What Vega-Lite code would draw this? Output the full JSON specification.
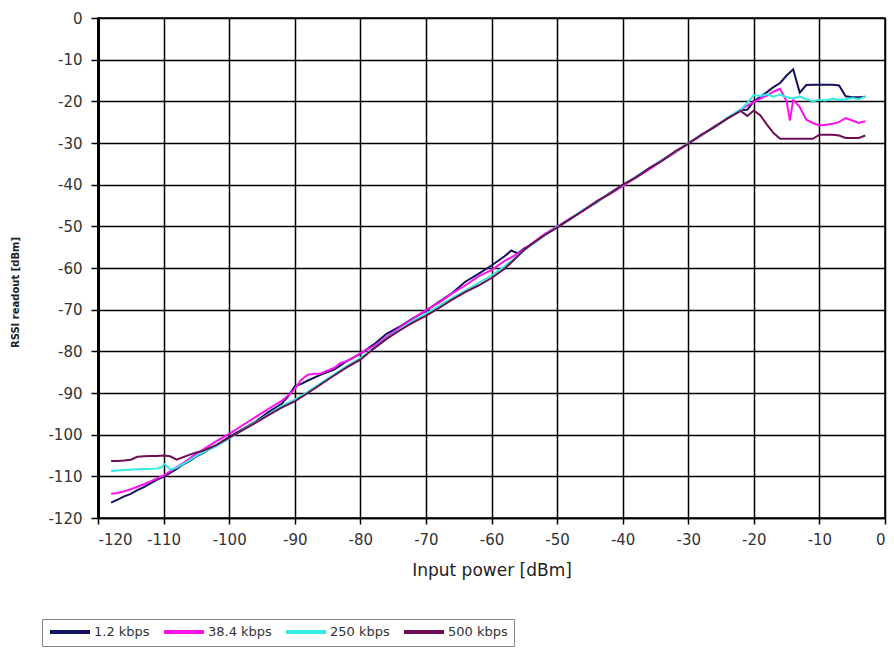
{
  "$schema": "https://vega.github.io/schema/vega-lite/v6.json",
  "width": 787,
  "height": 500,
  "autosize": {"type": "none"},
  "padding": {"left": 98, "top": 18, "right": 9, "bottom": 132},
  "background": "white",
  "config": {
    "font": "DejaVu Sans",
    "view": {"stroke": "black", "strokeWidth": 1.5}
  },
  "datasets": {
    "d": [
      {"series":"1.2 kbps","power":-118,"rssi":-116.3},{"series":"1.2 kbps","power":-117,"rssi":-115.6},{"series":"1.2 kbps","power":-116,"rssi":-114.8},{"series":"1.2 kbps","power":-115,"rssi":-114.2},{"series":"1.2 kbps","power":-114,"rssi":-113.3},{"series":"1.2 kbps","power":-113,"rssi":-112.6},{"series":"1.2 kbps","power":-112,"rssi":-111.7},{"series":"1.2 kbps","power":-111,"rssi":-110.8},{"series":"1.2 kbps","power":-110,"rssi":-110.1},{"series":"1.2 kbps","power":-109,"rssi":-109.2},{"series":"1.2 kbps","power":-108,"rssi":-108.2},{"series":"1.2 kbps","power":-107,"rssi":-107.1},{"series":"1.2 kbps","power":-106,"rssi":-106.3},{"series":"1.2 kbps","power":-105,"rssi":-105.2},{"series":"1.2 kbps","power":-104,"rssi":-104.4},{"series":"1.2 kbps","power":-102,"rssi":-102.6},{"series":"1.2 kbps","power":-100,"rssi":-100.5},{"series":"1.2 kbps","power":-98,"rssi":-98.7},{"series":"1.2 kbps","power":-96,"rssi":-96.9},{"series":"1.2 kbps","power":-94,"rssi":-94.6},{"series":"1.2 kbps","power":-92,"rssi":-92.6},{"series":"1.2 kbps","power":-91,"rssi":-90.8},{"series":"1.2 kbps","power":-90,"rssi":-88.4},{"series":"1.2 kbps","power":-89,"rssi":-87.8},{"series":"1.2 kbps","power":-88,"rssi":-87.0},{"series":"1.2 kbps","power":-86,"rssi":-85.6},{"series":"1.2 kbps","power":-84,"rssi":-84.4},{"series":"1.2 kbps","power":-82,"rssi":-82.3},{"series":"1.2 kbps","power":-80,"rssi":-80.6},{"series":"1.2 kbps","power":-78,"rssi":-78.4},{"series":"1.2 kbps","power":-76,"rssi":-75.8},{"series":"1.2 kbps","power":-74,"rssi":-74.1},{"series":"1.2 kbps","power":-72,"rssi":-72.1},{"series":"1.2 kbps","power":-70,"rssi":-70.3},{"series":"1.2 kbps","power":-68,"rssi":-68.1},{"series":"1.2 kbps","power":-66,"rssi":-66.0},{"series":"1.2 kbps","power":-64,"rssi":-63.3},{"series":"1.2 kbps","power":-62,"rssi":-61.4},{"series":"1.2 kbps","power":-60,"rssi":-59.4},{"series":"1.2 kbps","power":-58,"rssi":-57.2},{"series":"1.2 kbps","power":-57,"rssi":-55.8},{"series":"1.2 kbps","power":-56,"rssi":-56.5},{"series":"1.2 kbps","power":-55,"rssi":-55.3},{"series":"1.2 kbps","power":-54,"rssi":-54.5},{"series":"1.2 kbps","power":-52,"rssi":-52.1},{"series":"1.2 kbps","power":-50,"rssi":-50.2},{"series":"1.2 kbps","power":-48,"rssi":-48.3},{"series":"1.2 kbps","power":-46,"rssi":-46.1},{"series":"1.2 kbps","power":-44,"rssi":-44.3},{"series":"1.2 kbps","power":-42,"rssi":-42.0},{"series":"1.2 kbps","power":-40,"rssi":-40.2},{"series":"1.2 kbps","power":-38,"rssi":-38.1},{"series":"1.2 kbps","power":-36,"rssi":-36.2},{"series":"1.2 kbps","power":-34,"rssi":-34.1},{"series":"1.2 kbps","power":-32,"rssi":-32.2},{"series":"1.2 kbps","power":-30,"rssi":-30.0},{"series":"1.2 kbps","power":-28,"rssi":-28.2},{"series":"1.2 kbps","power":-26,"rssi":-26.0},{"series":"1.2 kbps","power":-24,"rssi":-24.1},{"series":"1.2 kbps","power":-22,"rssi":-22.1},{"series":"1.2 kbps","power":-21,"rssi":-22.0},{"series":"1.2 kbps","power":-20,"rssi":-20.0},{"series":"1.2 kbps","power":-19,"rssi":-18.9},{"series":"1.2 kbps","power":-18,"rssi":-17.8},{"series":"1.2 kbps","power":-17,"rssi":-16.6},{"series":"1.2 kbps","power":-16,"rssi":-15.6},{"series":"1.2 kbps","power":-15,"rssi":-13.8},{"series":"1.2 kbps","power":-14,"rssi":-12.3},{"series":"1.2 kbps","power":-13,"rssi":-17.9},{"series":"1.2 kbps","power":-12,"rssi":-16.1},{"series":"1.2 kbps","power":-11,"rssi":-16.0},{"series":"1.2 kbps","power":-10,"rssi":-16.0},{"series":"1.2 kbps","power":-9,"rssi":-16.0},{"series":"1.2 kbps","power":-8,"rssi":-16.0},{"series":"1.2 kbps","power":-7,"rssi":-16.2},{"series":"1.2 kbps","power":-6,"rssi":-18.8},{"series":"1.2 kbps","power":-5,"rssi":-19.0},{"series":"1.2 kbps","power":-4,"rssi":-19.0},{"series":"1.2 kbps","power":-3,"rssi":-18.9},

      {"series":"38.4 kbps","power":-118,"rssi":-114.2},{"series":"38.4 kbps","power":-117,"rssi":-114.0},{"series":"38.4 kbps","power":-116,"rssi":-113.6},{"series":"38.4 kbps","power":-115,"rssi":-113.1},{"series":"38.4 kbps","power":-114,"rssi":-112.5},{"series":"38.4 kbps","power":-113,"rssi":-111.9},{"series":"38.4 kbps","power":-112,"rssi":-111.2},{"series":"38.4 kbps","power":-111,"rssi":-110.5},{"series":"38.4 kbps","power":-110,"rssi":-109.8},{"series":"38.4 kbps","power":-109,"rssi":-108.8},{"series":"38.4 kbps","power":-108,"rssi":-107.8},{"series":"38.4 kbps","power":-107,"rssi":-106.8},{"series":"38.4 kbps","power":-106,"rssi":-105.7},{"series":"38.4 kbps","power":-105,"rssi":-104.6},{"series":"38.4 kbps","power":-104,"rssi":-103.6},{"series":"38.4 kbps","power":-102,"rssi":-101.6},{"series":"38.4 kbps","power":-100,"rssi":-99.8},{"series":"38.4 kbps","power":-98,"rssi":-97.8},{"series":"38.4 kbps","power":-96,"rssi":-95.8},{"series":"38.4 kbps","power":-94,"rssi":-93.8},{"series":"38.4 kbps","power":-92,"rssi":-91.9},{"series":"38.4 kbps","power":-91,"rssi":-90.6},{"series":"38.4 kbps","power":-90,"rssi":-89.0},{"series":"38.4 kbps","power":-89,"rssi":-86.8},{"series":"38.4 kbps","power":-88,"rssi":-85.6},{"series":"38.4 kbps","power":-87,"rssi":-85.4},{"series":"38.4 kbps","power":-86,"rssi":-85.3},{"series":"38.4 kbps","power":-85,"rssi":-84.6},{"series":"38.4 kbps","power":-84,"rssi":-84.0},{"series":"38.4 kbps","power":-83,"rssi":-82.8},{"series":"38.4 kbps","power":-82,"rssi":-82.3},{"series":"38.4 kbps","power":-81,"rssi":-81.5},{"series":"38.4 kbps","power":-80,"rssi":-80.4},{"series":"38.4 kbps","power":-79,"rssi":-79.6},{"series":"38.4 kbps","power":-78,"rssi":-78.8},{"series":"38.4 kbps","power":-76,"rssi":-76.6},{"series":"38.4 kbps","power":-74,"rssi":-74.3},{"series":"38.4 kbps","power":-72,"rssi":-72.2},{"series":"38.4 kbps","power":-70,"rssi":-70.1},{"series":"38.4 kbps","power":-68,"rssi":-68.3},{"series":"38.4 kbps","power":-66,"rssi":-66.1},{"series":"38.4 kbps","power":-64,"rssi":-64.2},{"series":"38.4 kbps","power":-62,"rssi":-62.0},{"series":"38.4 kbps","power":-60,"rssi":-60.5},{"series":"38.4 kbps","power":-58,"rssi":-58.3},{"series":"38.4 kbps","power":-56,"rssi":-56.6},{"series":"38.4 kbps","power":-54,"rssi":-54.3},{"series":"38.4 kbps","power":-52,"rssi":-52.0},{"series":"38.4 kbps","power":-50,"rssi":-50.0},{"series":"38.4 kbps","power":-48,"rssi":-48.1},{"series":"38.4 kbps","power":-46,"rssi":-46.3},{"series":"38.4 kbps","power":-44,"rssi":-44.1},{"series":"38.4 kbps","power":-42,"rssi":-42.3},{"series":"38.4 kbps","power":-40,"rssi":-40.4},{"series":"38.4 kbps","power":-38,"rssi":-38.3},{"series":"38.4 kbps","power":-36,"rssi":-36.4},{"series":"38.4 kbps","power":-34,"rssi":-34.2},{"series":"38.4 kbps","power":-32,"rssi":-32.3},{"series":"38.4 kbps","power":-30,"rssi":-30.1},{"series":"38.4 kbps","power":-28,"rssi":-28.2},{"series":"38.4 kbps","power":-26,"rssi":-26.1},{"series":"38.4 kbps","power":-24,"rssi":-24.0},{"series":"38.4 kbps","power":-22,"rssi":-22.0},{"series":"38.4 kbps","power":-21,"rssi":-21.0},{"series":"38.4 kbps","power":-20,"rssi":-20.2},{"series":"38.4 kbps","power":-19,"rssi":-19.3},{"series":"38.4 kbps","power":-18,"rssi":-18.6},{"series":"38.4 kbps","power":-17,"rssi":-17.7},{"series":"38.4 kbps","power":-16,"rssi":-17.0},{"series":"38.4 kbps","power":-15,"rssi":-20.0},{"series":"38.4 kbps","power":-14.5,"rssi":-24.6},{"series":"38.4 kbps","power":-14,"rssi":-19.6},{"series":"38.4 kbps","power":-13,"rssi":-21.4},{"series":"38.4 kbps","power":-12,"rssi":-24.4},{"series":"38.4 kbps","power":-11,"rssi":-25.2},{"series":"38.4 kbps","power":-10,"rssi":-25.8},{"series":"38.4 kbps","power":-9,"rssi":-25.6},{"series":"38.4 kbps","power":-8,"rssi":-25.4},{"series":"38.4 kbps","power":-7,"rssi":-25.0},{"series":"38.4 kbps","power":-6,"rssi":-24.0},{"series":"38.4 kbps","power":-5,"rssi":-24.6},{"series":"38.4 kbps","power":-4,"rssi":-25.2},{"series":"38.4 kbps","power":-3,"rssi":-24.8},

      {"series":"250 kbps","power":-118,"rssi":-108.7},{"series":"250 kbps","power":-116,"rssi":-108.5},{"series":"250 kbps","power":-114,"rssi":-108.3},{"series":"250 kbps","power":-112,"rssi":-108.2},{"series":"250 kbps","power":-111,"rssi":-108.1},{"series":"250 kbps","power":-110.4,"rssi":-107.9},{"series":"250 kbps","power":-109.8,"rssi":-107.0},{"series":"250 kbps","power":-109,"rssi":-108.4},{"series":"250 kbps","power":-108,"rssi":-107.9},{"series":"250 kbps","power":-107,"rssi":-107.0},{"series":"250 kbps","power":-106,"rssi":-106.1},{"series":"250 kbps","power":-105,"rssi":-105.1},{"series":"250 kbps","power":-104,"rssi":-104.3},{"series":"250 kbps","power":-102,"rssi":-102.8},{"series":"250 kbps","power":-100,"rssi":-100.9},{"series":"250 kbps","power":-98,"rssi":-98.9},{"series":"250 kbps","power":-96,"rssi":-97.1},{"series":"250 kbps","power":-94,"rssi":-95.1},{"series":"250 kbps","power":-92,"rssi":-93.1},{"series":"250 kbps","power":-90,"rssi":-91.6},{"series":"250 kbps","power":-88,"rssi":-89.7},{"series":"250 kbps","power":-86,"rssi":-87.6},{"series":"250 kbps","power":-84,"rssi":-85.5},{"series":"250 kbps","power":-82,"rssi":-83.5},{"series":"250 kbps","power":-80,"rssi":-81.6},{"series":"250 kbps","power":-78,"rssi":-79.3},{"series":"250 kbps","power":-76,"rssi":-76.9},{"series":"250 kbps","power":-74,"rssi":-74.8},{"series":"250 kbps","power":-72,"rssi":-72.7},{"series":"250 kbps","power":-70,"rssi":-71.0},{"series":"250 kbps","power":-68,"rssi":-69.1},{"series":"250 kbps","power":-66,"rssi":-67.2},{"series":"250 kbps","power":-64,"rssi":-65.4},{"series":"250 kbps","power":-62,"rssi":-63.6},{"series":"250 kbps","power":-60,"rssi":-61.8},{"series":"250 kbps","power":-58,"rssi":-59.6},{"series":"250 kbps","power":-56,"rssi":-57.0},{"series":"250 kbps","power":-54,"rssi":-54.6},{"series":"250 kbps","power":-52,"rssi":-52.3},{"series":"250 kbps","power":-50,"rssi":-50.1},{"series":"250 kbps","power":-48,"rssi":-48.2},{"series":"250 kbps","power":-46,"rssi":-46.0},{"series":"250 kbps","power":-44,"rssi":-44.2},{"series":"250 kbps","power":-42,"rssi":-42.1},{"series":"250 kbps","power":-40,"rssi":-40.1},{"series":"250 kbps","power":-38,"rssi":-38.2},{"series":"250 kbps","power":-36,"rssi":-36.0},{"series":"250 kbps","power":-34,"rssi":-34.1},{"series":"250 kbps","power":-32,"rssi":-32.2},{"series":"250 kbps","power":-30,"rssi":-30.0},{"series":"250 kbps","power":-28,"rssi":-28.1},{"series":"250 kbps","power":-26,"rssi":-26.2},{"series":"250 kbps","power":-24,"rssi":-23.9},{"series":"250 kbps","power":-22,"rssi":-22.0},{"series":"250 kbps","power":-21,"rssi":-20.4},{"series":"250 kbps","power":-20,"rssi":-18.5},{"series":"250 kbps","power":-19,"rssi":-18.7},{"series":"250 kbps","power":-18,"rssi":-18.3},{"series":"250 kbps","power":-17,"rssi":-18.9},{"series":"250 kbps","power":-16,"rssi":-18.4},{"series":"250 kbps","power":-15,"rssi":-19.0},{"series":"250 kbps","power":-14,"rssi":-19.3},{"series":"250 kbps","power":-13,"rssi":-18.8},{"series":"250 kbps","power":-12,"rssi":-19.5},{"series":"250 kbps","power":-11,"rssi":-20.0},{"series":"250 kbps","power":-10,"rssi":-19.6},{"series":"250 kbps","power":-9,"rssi":-19.8},{"series":"250 kbps","power":-8,"rssi":-19.3},{"series":"250 kbps","power":-7,"rssi":-19.7},{"series":"250 kbps","power":-6,"rssi":-19.5},{"series":"250 kbps","power":-5,"rssi":-19.2},{"series":"250 kbps","power":-4,"rssi":-19.5},{"series":"250 kbps","power":-3,"rssi":-18.8},

      {"series":"500 kbps","power":-118,"rssi":-106.3},{"series":"500 kbps","power":-117,"rssi":-106.3},{"series":"500 kbps","power":-116,"rssi":-106.2},{"series":"500 kbps","power":-115,"rssi":-106.0},{"series":"500 kbps","power":-114,"rssi":-105.3},{"series":"500 kbps","power":-113,"rssi":-105.2},{"series":"500 kbps","power":-112,"rssi":-105.1},{"series":"500 kbps","power":-111,"rssi":-105.1},{"series":"500 kbps","power":-110,"rssi":-105.0},{"series":"500 kbps","power":-109,"rssi":-105.2},{"series":"500 kbps","power":-108,"rssi":-106.0},{"series":"500 kbps","power":-107,"rssi":-105.4},{"series":"500 kbps","power":-106,"rssi":-104.8},{"series":"500 kbps","power":-105,"rssi":-104.3},{"series":"500 kbps","power":-104,"rssi":-103.9},{"series":"500 kbps","power":-103,"rssi":-103.2},{"series":"500 kbps","power":-102,"rssi":-102.5},{"series":"500 kbps","power":-100,"rssi":-100.7},{"series":"500 kbps","power":-98,"rssi":-99.0},{"series":"500 kbps","power":-96,"rssi":-97.2},{"series":"500 kbps","power":-94,"rssi":-95.3},{"series":"500 kbps","power":-92,"rssi":-93.5},{"series":"500 kbps","power":-90,"rssi":-92.0},{"series":"500 kbps","power":-88,"rssi":-90.0},{"series":"500 kbps","power":-86,"rssi":-87.9},{"series":"500 kbps","power":-84,"rssi":-85.8},{"series":"500 kbps","power":-82,"rssi":-83.8},{"series":"500 kbps","power":-80,"rssi":-82.0},{"series":"500 kbps","power":-78,"rssi":-79.4},{"series":"500 kbps","power":-76,"rssi":-77.0},{"series":"500 kbps","power":-74,"rssi":-75.0},{"series":"500 kbps","power":-72,"rssi":-73.1},{"series":"500 kbps","power":-70,"rssi":-71.5},{"series":"500 kbps","power":-68,"rssi":-69.6},{"series":"500 kbps","power":-66,"rssi":-67.6},{"series":"500 kbps","power":-64,"rssi":-65.8},{"series":"500 kbps","power":-62,"rssi":-64.2},{"series":"500 kbps","power":-60,"rssi":-62.4},{"series":"500 kbps","power":-58,"rssi":-60.2},{"series":"500 kbps","power":-56,"rssi":-57.2},{"series":"500 kbps","power":-55,"rssi":-55.6},{"series":"500 kbps","power":-54,"rssi":-54.4},{"series":"500 kbps","power":-52,"rssi":-52.2},{"series":"500 kbps","power":-50,"rssi":-50.3},{"series":"500 kbps","power":-48,"rssi":-48.2},{"series":"500 kbps","power":-46,"rssi":-46.2},{"series":"500 kbps","power":-44,"rssi":-44.0},{"series":"500 kbps","power":-42,"rssi":-42.2},{"series":"500 kbps","power":-40,"rssi":-40.0},{"series":"500 kbps","power":-38,"rssi":-38.3},{"series":"500 kbps","power":-36,"rssi":-36.1},{"series":"500 kbps","power":-34,"rssi":-34.3},{"series":"500 kbps","power":-32,"rssi":-32.0},{"series":"500 kbps","power":-30,"rssi":-30.2},{"series":"500 kbps","power":-28,"rssi":-28.0},{"series":"500 kbps","power":-26,"rssi":-26.2},{"series":"500 kbps","power":-24,"rssi":-24.1},{"series":"500 kbps","power":-22,"rssi":-22.3},{"series":"500 kbps","power":-21,"rssi":-23.5},{"series":"500 kbps","power":-20,"rssi":-22.2},{"series":"500 kbps","power":-19,"rssi":-23.4},{"series":"500 kbps","power":-18,"rssi":-25.6},{"series":"500 kbps","power":-17,"rssi":-27.6},{"series":"500 kbps","power":-16,"rssi":-29.0},{"series":"500 kbps","power":-15,"rssi":-29.0},{"series":"500 kbps","power":-14,"rssi":-29.0},{"series":"500 kbps","power":-13,"rssi":-29.0},{"series":"500 kbps","power":-12,"rssi":-29.0},{"series":"500 kbps","power":-11,"rssi":-29.0},{"series":"500 kbps","power":-10,"rssi":-28.0},{"series":"500 kbps","power":-9,"rssi":-28.0},{"series":"500 kbps","power":-8,"rssi":-28.0},{"series":"500 kbps","power":-7,"rssi":-28.2},{"series":"500 kbps","power":-6,"rssi":-28.8},{"series":"500 kbps","power":-5,"rssi":-28.8},{"series":"500 kbps","power":-4,"rssi":-28.8},{"series":"500 kbps","power":-3,"rssi":-28.2}
    ]
  },
  "data": {"name": "d"},
  "mark": {"type": "line", "strokeWidth": 2, "interpolate": "linear"},
  "encoding": {
    "x": {
      "field": "power", "type": "quantitative",
      "scale": {"domain": [-120, 0], "nice": false, "zero": false},
      "axis": {
        "values": [-120,-110,-100,-90,-80,-70,-60,-50,-40,-30,-20,-10,0],
        "labelExpr": "datum.value < 0 ? '-' + abs(datum.value) : '' + datum.value",
        "title": "Input power [dBm]",
        "grid": true, "gridColor": "black", "gridOpacity": 1, "gridWidth": 1.5,
        "domainColor": "black", "domainWidth": 1.5,
        "tickColor": "black", "tickSize": 6, "tickWidth": 1.5,
        "labelFontSize": 15, "labelColor": "#333", "labelPadding": 8,
        "titleFontSize": 17, "titleFontWeight": "normal", "titleColor": "#222", "titlePadding": 15
      }
    },
    "y": {
      "field": "rssi", "type": "quantitative",
      "scale": {"domain": [-120, 0], "nice": false, "zero": false},
      "axis": {
        "values": [-120,-110,-100,-90,-80,-70,-60,-50,-40,-30,-20,-10,0],
        "labelExpr": "datum.value < 0 ? '-' + abs(datum.value) : '' + datum.value",
        "title": "RSSI readout [dBm]",
        "titleX": -78, "titleY": 274,
        "grid": true, "gridColor": "black", "gridOpacity": 1, "gridWidth": 1.5,
        "domainColor": "black", "domainWidth": 3,
        "tickColor": "black", "tickSize": 7, "tickWidth": 1.5,
        "labelFontSize": 15, "labelColor": "#333", "labelPadding": 9,
        "titleFontSize": 10, "titleFontWeight": "bold", "titleColor": "#222"
      }
    },
    "color": {
      "field": "series", "type": "nominal",
      "scale": {
        "domain": ["1.2 kbps", "38.4 kbps", "250 kbps", "500 kbps"],
        "range": ["#12125e", "#ff10f0", "#30ece2", "#6e0e52"]
      },
      "legend": {
        "title": null,
        "orient": "none",
        "legendX": -56,
        "legendY": 601,
        "direction": "horizontal",
        "columns": 4,
        "symbolType": "M-1,0L7,0",
        "symbolStrokeWidth": 4,
        "symbolSize": 100,
        "labelFontSize": 13,
        "labelColor": "#333",
        "labelOffset": 32,
        "columnPadding": 6,
        "strokeColor": "#888",
        "padding": 6,
        "encode": {"symbols": {"update": {"strokeWidth": {"value": 4}}}}
      }
    }
  }
}
